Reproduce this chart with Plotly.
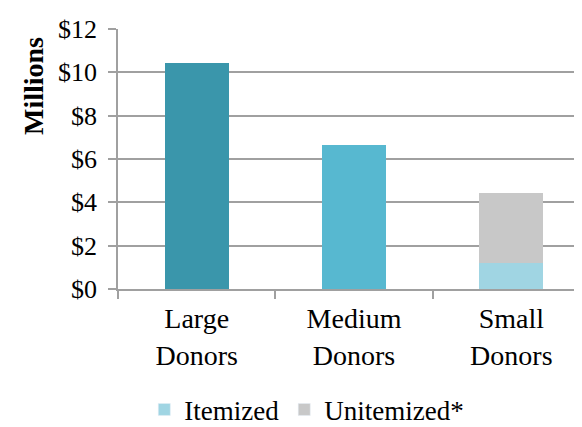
import plotly.graph_objects as go

categories = ["Large<br>Donors", "Medium<br>Donors", "Small<br>Donors"]
itemized = [10.45, 6.65, 1.22]
unitemized = [0, 0, 3.23]
itemized_colors = ["#3A96AB", "#57B8D0", "#A0D5E3"]
tick_vals = [0, 2, 4, 6, 8, 10, 12]
tick_text = ["$0", "$2", "$4", "$6", "$8", "$10", "$12"]

FONT = "Liberation Serif"
FS = 26

fig = go.Figure()
fig.add_trace(go.Bar(x=categories, y=itemized, name="Itemized",
                     marker=dict(color=itemized_colors, line=dict(width=0)),
                     showlegend=False))
fig.add_trace(go.Bar(x=categories, y=unitemized, name="Unitemized*",
                     marker=dict(color="#C8C8C8", line=dict(width=0)),
                     showlegend=False))
# legend entries
fig.add_trace(go.Bar(x=[categories[2]], y=[None], name="Itemized",
                     marker=dict(color=itemized_colors[2])))
fig.add_trace(go.Bar(x=[categories[2]], y=[None], name="Unitemized*",
                     marker=dict(color="#C8C8C8")))

fig.update_layout(
    width=582, height=427,
    margin=dict(l=110, r=0, t=21, b=137),
    barmode="stack",
    bargap=0.595,
    plot_bgcolor="white", paper_bgcolor="white",
    font=dict(family=FONT, size=FS, color="black"),
    legend=dict(orientation="h", x=0.40, xanchor="center", y=-0.465, yanchor="middle",
                font=dict(family=FONT, size=27), traceorder="normal",
                itemwidth=30, tracegroupgap=0),
    annotations=[dict(text="<b>Millions</b>", xref="paper", yref="paper",
                      x=(25 - 110) / 472, y=(290 - 80) / 269, textangle=-90,
                      showarrow=False, xanchor="center", yanchor="middle",
                      font=dict(family=FONT, size=28, color="black"))],
)
fig.update_yaxes(range=[0, 12], tickvals=tick_vals, ticktext=tick_text,
                 showgrid=True, gridcolor="#A0A0A0", gridwidth=1.5,
                 showline=True, linecolor="#A0A0A0", linewidth=1.5,
                 ticks="outside", ticklen=8, tickcolor="#A0A0A0", tickwidth=1.5,
                 ticklabelstandoff=6,
                 zeroline=False, tickfont=dict(family=FONT, size=FS))
fig.update_xaxes(showgrid=False, showline=True, linecolor="#A0A0A0", linewidth=1.5,
                 ticks="outside", tickson="boundaries", ticklen=8,
                 tickcolor="#A0A0A0", tickwidth=1.5, ticklabelstandoff=4,
                 tickfont=dict(family=FONT, size=28))

fig.write_html("out.html")
